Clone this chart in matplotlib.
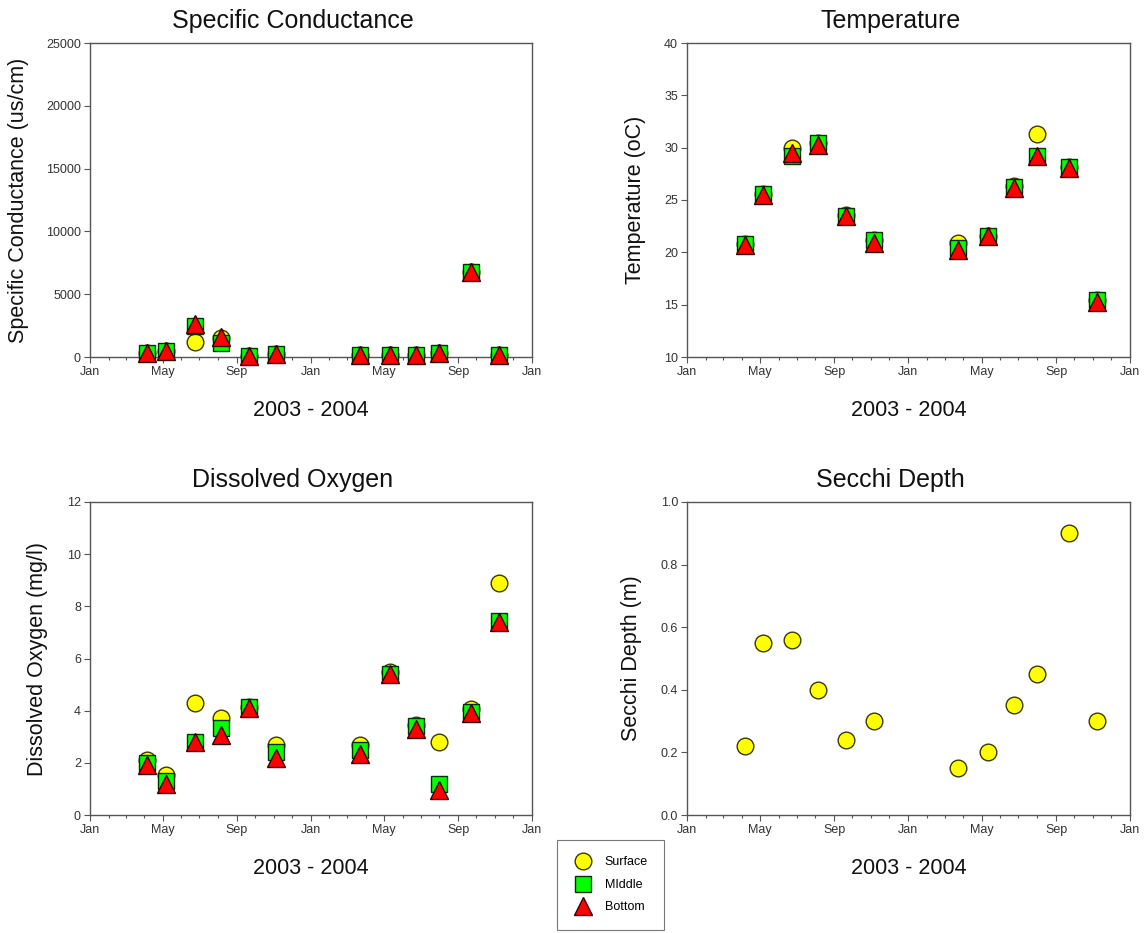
import datetime as dt
import matplotlib
matplotlib.use("Agg")
import matplotlib.pyplot as plt
import matplotlib.dates as mdates
from matplotlib.lines import Line2D

plt.rcParams['font.family'] = ['Liberation Sans', 'DejaVu Sans']

dates = ["2003-04-06", "2003-05-06", "2003-06-23", "2003-08-05", "2003-09-21", "2003-11-05",
         "2004-03-23", "2004-05-11", "2004-06-23", "2004-08-01", "2004-09-22", "2004-11-08"]

cond_surface = [300, 450, 1200, 1500, 100, 200, 130, 130, 130, 300, 6800, 130]
cond_middle = [300, 450, 2500, 1100, 100, 200, 130, 130, 130, 300, 6800, 130]
cond_bottom = [300, 450, 2600, 1600, 100, 200, 130, 130, 130, 300, 6800, 130]

temp_surface = [20.8, 25.6, 30.0, 30.4, 23.6, 21.2, 20.9, 21.6, 26.3, 31.3, 28.2, 15.4]
temp_middle = [20.8, 25.6, 29.2, 30.4, 23.5, 21.2, 20.4, 21.6, 26.2, 29.2, 28.2, 15.4]
temp_bottom = [20.7, 25.5, 29.5, 30.3, 23.5, 20.9, 20.2, 21.6, 26.1, 29.2, 28.1, 15.3]

do_surface = [2.1, 1.55, 4.3, 3.7, 4.15, 2.7, 2.7, 5.5, 3.45, 2.8, 4.05, 8.9]
do_middle = [2.0, 1.3, 2.8, 3.35, 4.15, 2.4, 2.5, 5.4, 3.4, 1.2, 3.95, 7.43]
do_bottom = [1.9, 1.2, 2.8, 3.05, 4.1, 2.2, 2.35, 5.4, 3.3, 0.95, 3.9, 7.4]

secchi_surface = [0.22, 0.55, 0.56, 0.40, 0.24, 0.30, 0.15, 0.20, 0.35, 0.45, 0.90, 0.30]

series_labels = ["Surface", "MIddle", "Bottom"]
titles = ["Specific Conductance", "Temperature", "Dissolved Oxygen", "Secchi Depth"]
ylabels = ["Specific Conductance (us/cm)", "Temperature (oC)", "Dissolved Oxygen (mg/l)", "Secchi Depth (m)"]
xlabel = "2003 - 2004"

x = [dt.datetime.strptime(d, "%Y-%m-%d") for d in dates]

W, H = 1144, 933
fig = plt.figure(figsize=(W / 100, H / 100), dpi=100)

def px_axes(left, right, top, bottom):
    return fig.add_axes([left / W, (H - bottom) / H, (right - left) / W, (bottom - top) / H])

styles = [
    dict(marker='o', color='#FFFF00', mec='#3a3a00', ms=12, mew=1.0),
    dict(marker='s', color='#00FF00', mec='#003300', ms=11, mew=1.0),
    dict(marker='^', color='#FF0000', mec='#330000', ms=12.5, mew=1.0),
]

panels = [
    (px_axes(90, 532, 43, 357), [cond_surface, cond_middle, cond_bottom], (0, 25000), range(0, 25001, 5000), "{:d}", 71),
    (px_axes(687, 1130, 43, 357), [temp_surface, temp_middle, temp_bottom], (10, 40), range(10, 41, 5), "{:d}", 51),
    (px_axes(90, 532, 502, 815), [do_surface, do_middle, do_bottom], (0, 12), range(0, 13, 2), "{:d}", 52),
    (px_axes(687, 1130, 502, 815), [secchi_surface], (0, 1.0), [0, 0.2, 0.4, 0.6, 0.8, 1.0], "{:.1f}", 55),
]

spine_col = '#555555'
for i, (ax, ser, ylim, yt, fmt, yoff) in enumerate(panels):
    for s, st in zip(ser, styles):
        ax.plot(x, s, linestyle='none', clip_on=False, zorder=3, **st)
    ax.set_xlim(dt.datetime(2003, 1, 1), dt.datetime(2005, 1, 1))
    ax.set_ylim(*ylim)
    ax.set_yticks(list(yt))
    ax.set_yticklabels([fmt.format(v) for v in yt])
    ax.xaxis.set_major_locator(mdates.MonthLocator(bymonth=[1, 5, 9]))
    ax.xaxis.set_major_formatter(mdates.DateFormatter('%b'))
    ax.xaxis.set_minor_locator(mdates.MonthLocator())
    ax.tick_params(axis='both', which='major', direction='out', length=4, width=0.8, pad=2.5,
                   colors=spine_col, labelcolor='#333333', labelsize=9)
    ax.tick_params(axis='x', which='minor', direction='out', length=2.5, width=0.8, colors=spine_col)
    for sp in ax.spines.values():
        sp.set_color(spine_col)
        sp.set_linewidth(1.0)
    bb = ax.get_position()
    wpx = bb.width * W
    hpx = bb.height * H
    ax.set_title(titles[i], fontsize=18, pad=11, color='#111111', x=0.5 - 18 / wpx)
    ax.set_ylabel(ylabels[i], fontsize=15.5, color='#111111')
    ax.yaxis.label.set_verticalalignment('center')
    ax.yaxis.set_label_coords(-yoff / wpx, 0.5)
    ax.set_xlabel(xlabel, fontsize=15.5, color='#111111')
    ax.xaxis.label.set_verticalalignment('center')
    ax.xaxis.set_label_coords(0.5, -53 / hpx)

handles = [Line2D([], [], linestyle='none', **st) for st in styles]
leg = fig.legend(handles, series_labels, loc='upper left',
                 bbox_to_anchor=(557 / W, (H - 840) / H), fontsize=9,
                 frameon=True, fancybox=False, edgecolor='#555555',
                 handletextpad=0.9, labelspacing=0.85, borderpad=1.3,
                 handlelength=1.6, borderaxespad=0)
leg.get_frame().set_linewidth(0.8)

fig.savefig("out.png", dpi=100, facecolor='white')
